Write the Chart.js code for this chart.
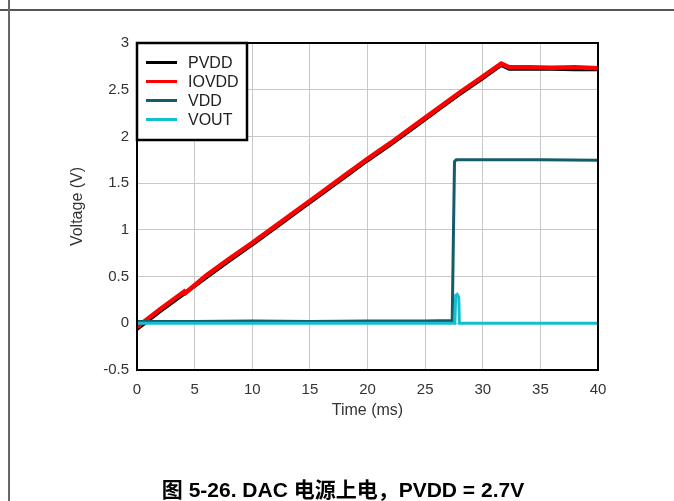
<!DOCTYPE html>
<html>
<head>
<meta charset="utf-8">
<script src="https://cdn.jsdelivr.net/npm/chart.js@4.4.0/dist/chart.umd.min.js"></script>
<style>
body { margin: 0; background: #fff; }
#page { position: relative; width: 674px; height: 501px; overflow: hidden; }
#topline { position: absolute; left: 0; top: 9px; width: 674px; height: 2px; background: #555; }
#leftline { position: absolute; left: 8px; top: 0; width: 2px; height: 501px; background: #666; }
#caption { position: absolute; left: 0; top: 473px; width: 686px; line-height: 24px; text-align: center;
  font: bold 21px "Liberation Sans", "Noto Sans CJK SC", sans-serif; color: #000; }
canvas { position: absolute; left: 0; top: 0; }
</style>
</head>
<body>
<div id="page">
  <canvas id="chart" width="674" height="501"></canvas>
  <div id="topline"></div>
  <div id="leftline"></div>
  <div id="caption">图 5-26. DAC 电源上电，PVDD = 2.7V</div>
</div>
<script>
// values (time in ms, voltage in V)
const pvddT = [0, 2, 4, 6, 8, 10, 12, 14, 16, 18, 20, 22, 24, 26, 28, 30, 31.6, 32.3, 34, 36, 38, 40]
const pvddV = [-0.06, 0.13, 0.31, 0.49, 0.67, 0.845, 1.025, 1.205, 1.385, 1.565, 1.745, 1.915, 2.095, 2.275, 2.455, 2.625, 2.765, 2.725, 2.725, 2.725, 2.72, 2.72]

const iovddT = [0, 2, 4.1, 4.2, 6, 8, 10, 12, 14, 16, 18, 20, 22, 24, 26, 28, 30, 31.6, 32.3, 34, 36, 38, 40]
const iovddV = [-0.04, 0.15, 0.34, 0.325, 0.51, 0.69, 0.86, 1.04, 1.22, 1.40, 1.58, 1.76, 1.93, 2.11, 2.29, 2.47, 2.64, 2.78, 2.74, 2.74, 2.735, 2.74, 2.73]

const vddT = [0, 5, 10, 15, 20, 25, 27.35, 27.45, 27.55, 27.7, 30, 35, 40]
const vddV = [0.02, 0.02, 0.025, 0.02, 0.025, 0.025, 0.03, 0.9, 1.73, 1.75, 1.75, 1.75, 1.745]

const voutT = [0, 10, 20, 27.58, 27.65, 27.78, 27.92, 27.97, 30, 35, 40]
const voutV = [0.0, 0.0, 0.0, 0.0, 0.30, 0.31, 0.28, 0.0, 0.0, 0.0, 0.0]

const xTicks = [0, 5, 10, 15, 20, 25, 30, 35, 40]
const yTicks = [-0.5, 0, 0.5, 1, 1.5, 2, 2.5, 3]

function pts(ts, vs) {
    return ts.map((t, i) => ({ x: t, y: vs[i] }))
}

// frame round the plot and the boxed legend in its top-left corner
const frameAndLegend = {
    id: 'frameAndLegend',
    afterDraw(chart) {
        const { ctx, chartArea: a } = chart
        ctx.save()
        ctx.strokeStyle = '#000'
        ctx.lineWidth = 2
        ctx.strokeRect(a.left, a.top, a.right - a.left, a.bottom - a.top)

        ctx.fillStyle = '#fff'
        ctx.fillRect(a.left, a.top, 110, 97)
        ctx.lineWidth = 2.5
        ctx.strokeRect(a.left, a.top, 110, 97)
        ctx.font = '16px "Liberation Sans", Arial, sans-serif'
        ctx.textBaseline = 'middle'
        chart.data.datasets.forEach((ds, i) => {
            const y = a.top + 19.5 + i * 19
            ctx.strokeStyle = ds.borderColor
            ctx.lineWidth = 3
            ctx.beginPath()
            ctx.moveTo(a.left + 9, y)
            ctx.lineTo(a.left + 40, y)
            ctx.stroke()
            ctx.fillStyle = '#222'
            ctx.fillText(ds.label, a.left + 51, y + 1)
        })
        ctx.restore()
    }
}

const canvas = document.getElementById('chart')
let myChart = new Chart(canvas, {
    type: 'line',
    data: {
        datasets: [
            { label: 'PVDD', data: pts(pvddT, pvddV), borderColor: '#000000', borderWidth: 4, order: 4 },
            { label: 'IOVDD', data: pts(iovddT, iovddV), borderColor: '#ff0000', borderWidth: 4.5, order: 3 },
            { label: 'VDD', data: pts(vddT, vddV), borderColor: '#135c6b', borderWidth: 3, order: 2 },
            { label: 'VOUT', data: pts(voutT, voutV), borderColor: '#11bfcf', borderWidth: 3, order: 1 }
        ]
    },
    options: {
        responsive: false,
        animation: false,
        events: [],
        elements: { point: { radius: 0 }, line: { tension: 0 } },
        layout: { padding: { left: 64, top: 43, right: 76, bottom: 77 } },
        plugins: { legend: { display: false }, tooltip: { enabled: false } },
        scales: {
            x: {
                type: 'linear',
                min: 0,
                max: 40,
                afterBuildTicks: s => { s.ticks = xTicks.map(v => ({ value: v })) },
                afterFit: s => { s.height = 54 },
                grid: { color: '#c8c8c8', lineWidth: 1, drawTicks: false },
                border: { display: false },
                ticks: { padding: 11, color: '#333', font: { family: 'Liberation Sans', size: 15 }, callback: v => String(v) },
                title: { display: true, text: 'Time (ms)', color: '#333', font: { family: 'Liberation Sans', size: 16 } }
            },
            y: {
                min: -0.5,
                max: 3,
                afterBuildTicks: s => { s.ticks = yTicks.map(v => ({ value: v })) },
                afterFit: s => { s.width = 73 },
                grid: { color: '#c8c8c8', lineWidth: 1, drawTicks: false },
                border: { display: false },
                ticks: { padding: 8, color: '#333', font: { family: 'Liberation Sans', size: 15 }, callback: v => String(v) },
                title: { display: true, text: 'Voltage (V)', color: '#333', font: { family: 'Liberation Sans', size: 16 } }
            }
        }
    },
    plugins: [frameAndLegend]
})
</script>
</body>
</html>
